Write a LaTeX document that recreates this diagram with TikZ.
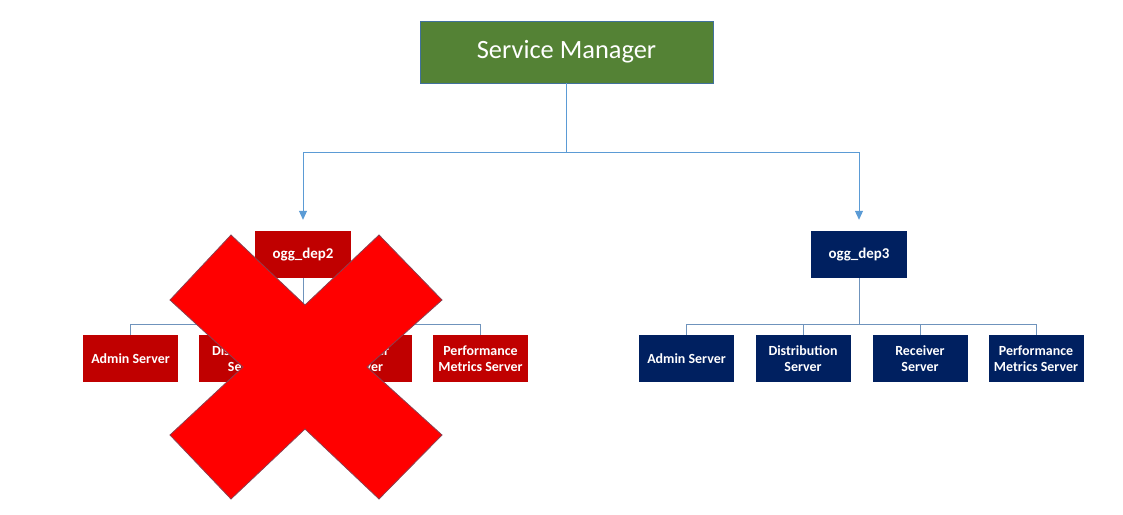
\documentclass[tikz,border=0pt]{standalone}
\usepackage{fontspec}
\setmainfont{Carlito}
\usetikzlibrary{arrows.meta}
\definecolor{smgreen}{HTML}{548235}
\definecolor{smborder}{HTML}{41719C}
\definecolor{darkred}{HTML}{C00000}
\definecolor{navy}{HTML}{002060}
\definecolor{lineblue}{HTML}{5B9BD5}
\definecolor{busblue}{HTML}{6F93BC}
\definecolor{xred}{HTML}{FF0000}
\definecolor{xborder}{HTML}{8A4050}
\begin{document}
\begin{tikzpicture}[x=1bp,y=-1bp,
  box/.style={inner sep=0pt, text=white, font=\bfseries\fontsize{14}{16}\selectfont, align=center, minimum width=95bp, minimum height=47bp},
  redbox/.style={box, fill=darkred},
  navybox/.style={box, fill=navy},
  depbox/.style={minimum width=96bp, font=\bfseries\fontsize{15}{18}\selectfont},
  conn/.style={draw=lineblue, line width=0.9bp},
  bus/.style={draw=busblue, line width=0.9bp},
  xmark/.style={fill=xred, draw=xborder, line width=0.8bp, line join=miter}]
\useasboundingbox[fill=white] (0,0) rectangle (1123,515);
% top node
\node[fill=smgreen, draw=smborder, line width=0.8bp, minimum width=293bp, minimum height=62bp, inner sep=0pt, text=white, font=\fontsize{26.5}{30}\selectfont] (sm) at (566.5,52) {Service Manager};
% deployments
\node[redbox, depbox] (d2) at (303,254.5) {ogg\_dep2};
\node[navybox, depbox] (d3) at (859,254.5) {ogg\_dep3};
% left children
\node[redbox] (a2) at (130.5,358.5) {Admin Server};
\node[redbox] (b2) at (246.5,358.5) {Distribution\\Server};
\node[redbox] (c2) at (364.5,358.5) {Receiver\\Server};
\node[redbox] (p2) at (480.5,358.5) {Performance\\Metrics Server};
% right children
\node[navybox] (a3) at (686.5,358.5) {Admin Server};
\node[navybox] (b3) at (803,358.5) {Distribution\\Server};
\node[navybox] (c3) at (920,358.5) {Receiver\\Server};
\node[navybox] (p3) at (1036,358.5) {Performance\\Metrics Server};
% top connectors
\draw[conn, -{Triangle[length=9bp,width=8bp]}, shorten >=11bp] (sm.south) -- ++(0,69) -| (d2.north);
\draw[conn, -{Triangle[length=9bp,width=8bp]}, shorten >=11bp] (sm.south) -- ++(0,69) -| (d3.north);
% buses
\foreach \c in {a2,b2,c2,p2}{\draw[bus] (d2.south) -- ++(0,46) -| (\c.north);}
\foreach \c in {a3,b3,c3,p3}{\draw[bus] (d3.south) -- ++(0,46) -| (\c.north);}
% red X
\draw[xmark] (231,235) -- (305,305) -- (379,235) -- (442,300) -- (367,367) -- (442,435) -- (379,499) -- (305,429) -- (231,499) -- (170,435) -- (243,367) -- (170,300) -- cycle;
\end{tikzpicture}
\end{document}
